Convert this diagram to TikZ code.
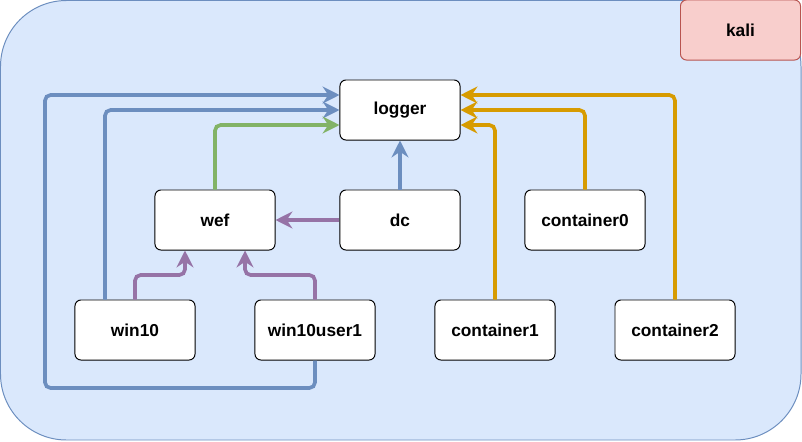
\documentclass[tikz,border=0pt]{standalone}
\usepackage{fontspec}
\setmainfont{Liberation Sans}
\usetikzlibrary{positioning,arrows.meta}

\definecolor{zoneblue}{HTML}{DAE8FC}
\definecolor{zoneedge}{HTML}{6C8EBF}
\definecolor{kalifill}{HTML}{F8CECC}
\definecolor{kaliedge}{HTML}{B85450}
\definecolor{lineblue}{HTML}{6C8EBF}
\definecolor{linegreen}{HTML}{82B366}
\definecolor{linepurple}{HTML}{9673A6}
\definecolor{lineorange}{HTML}{D79B00}

\begin{document}
\begin{tikzpicture} [x=0.025cm,y=-0.025cm,
	every node/.style={draw,rectangle,rounded corners=0.15cm,fill=white,minimum width=3cm,minimum height=1.5cm,line width=0.7pt,font=\fontsize{12.3}{14}\selectfont\bfseries},
	link/.style={line width=2.6pt,rounded corners=0.14cm,-{Stealth[length=12pt,width=12pt,inset=4pt]}}]
\def\xmax{801}
\def\ymax{440}

\useasboundingbox (0,0) rectangle (802,441);
\draw[fill=zoneblue,draw=zoneedge,line width=0.7pt,rounded corners=1.65cm] (0.5,0.5) rectangle (\xmax,\ymax);

\node[fill=kalifill,draw=kaliedge] (kali) at (740.5,30) {kali};

\node (logger) at (400,110) {logger};
\node (wef) at (215,220) {wef};
\node (dc) at (400,220) {dc};
\node (c0) at (585,220) {container0};
\node (win10) at (135,330) {win10};
\node (user1) at (315,330) {win10user1};
\node (c1) at (495,330) {container1};
\node (c2) at (675,330) {container2};

% blue: hosts to logger
\draw[link,lineblue] ([xshift=-0.75cm]win10.north) |- (logger.west);
\draw[link,lineblue] (user1.south) -- (user1.south |- 0,388) -- (45,388) -- (45,95) -- ([yshift=0.375cm]logger.west);
\draw[link,lineblue] (dc.north) -- (logger.south);
% green
\draw[link,linegreen] (wef.north) |- ([yshift=-0.375cm]logger.west);
% purple: event forwarding
\draw[link,linepurple] (dc.west) -- (wef.east);
\foreach \src/\dx in {win10/-0.75cm,user1/0.75cm}
	\draw[link,linepurple] (\src.north) -- (\src.north |- 0,275) -| ([xshift=\dx]wef.south);
% orange: containers
\foreach \src/\dy in {c0/0cm,c1/-0.375cm,c2/0.375cm}
	\draw[link,lineorange] (\src.north) |- ([yshift=\dy]logger.east);

\end{tikzpicture}
\end{document}
